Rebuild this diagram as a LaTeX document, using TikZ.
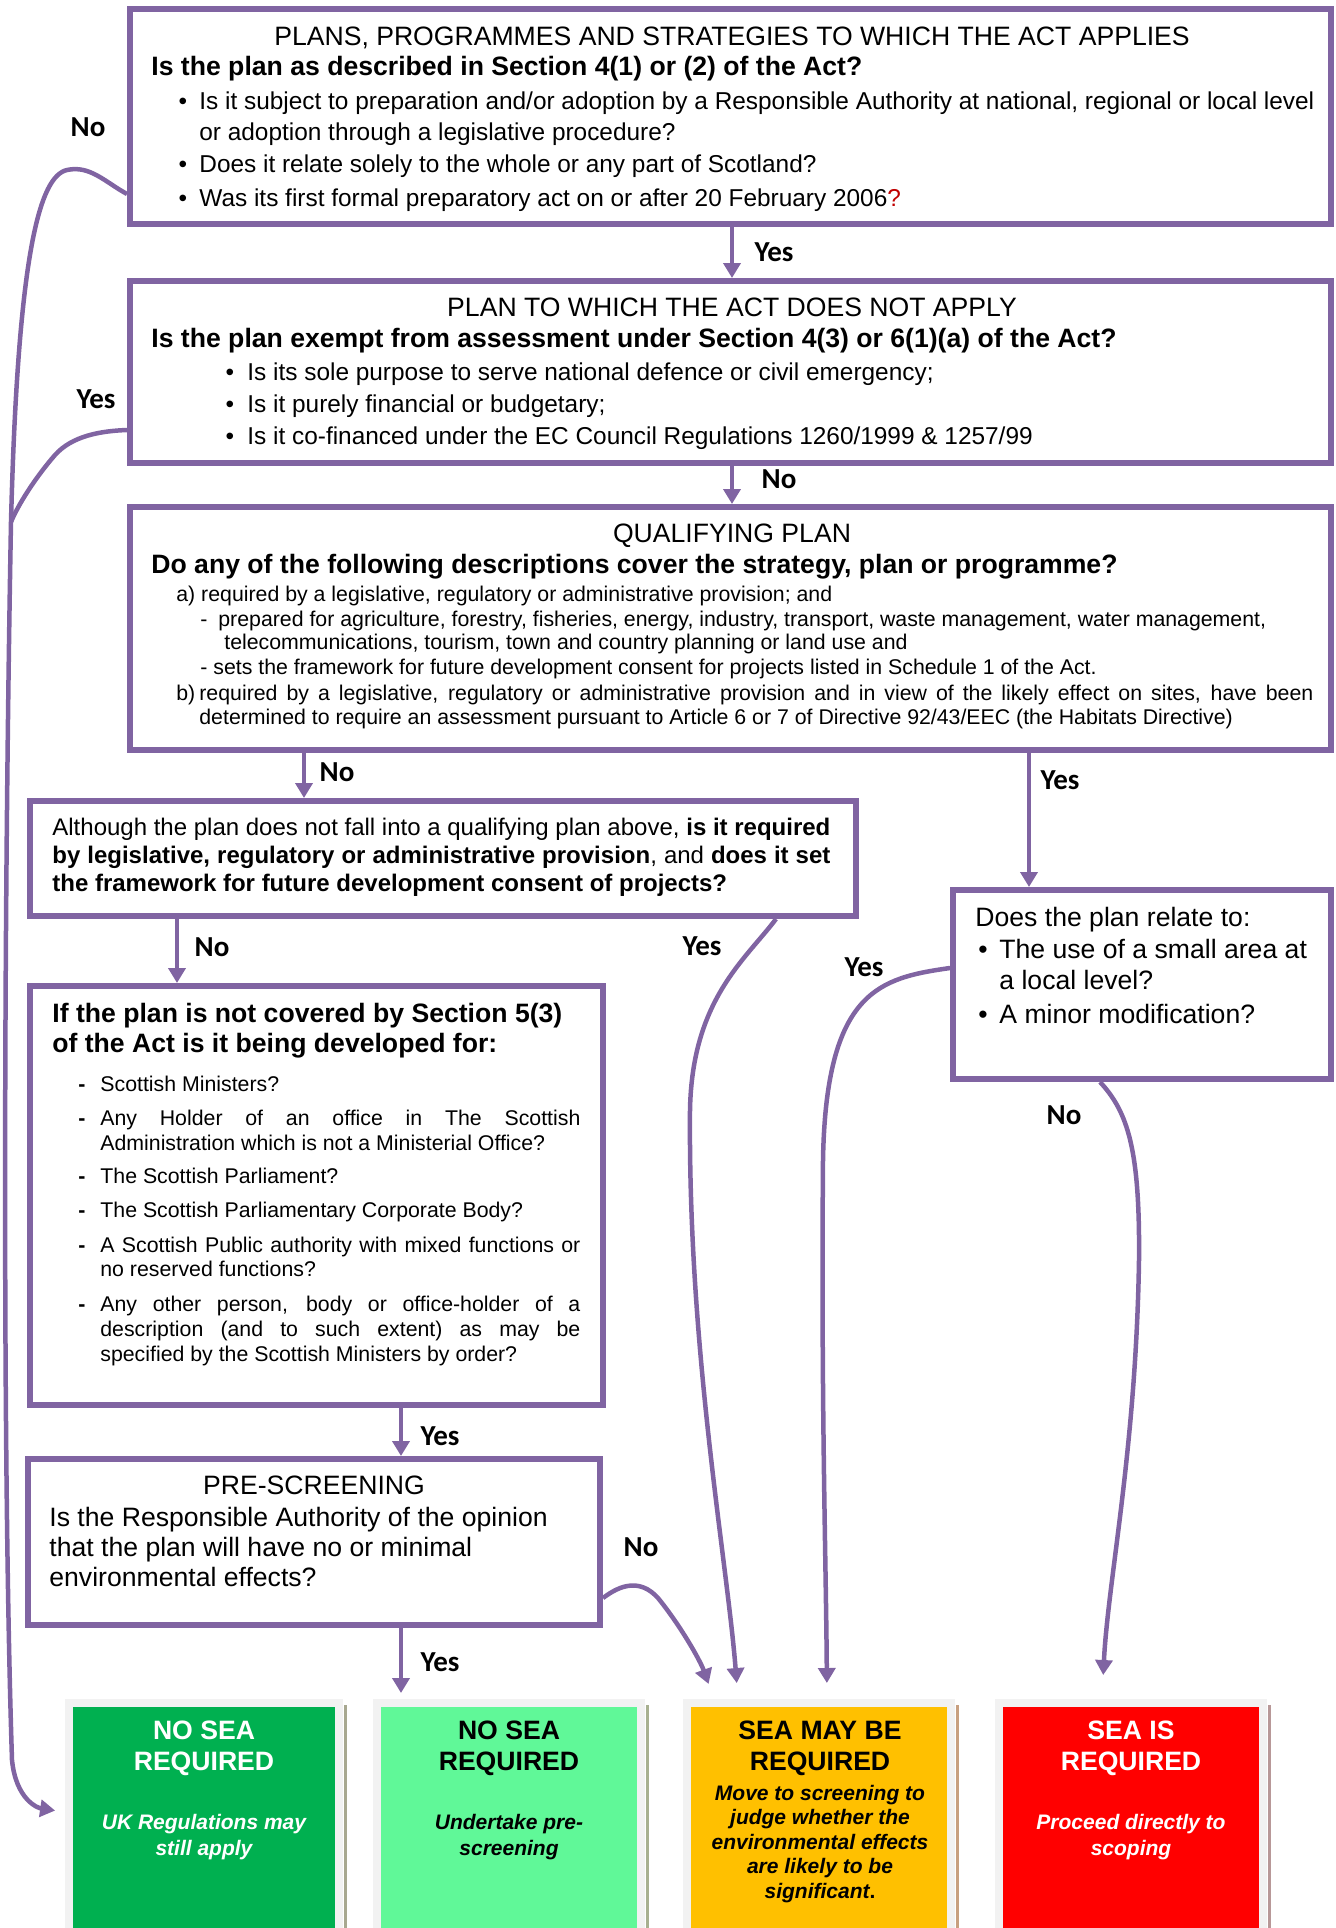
\documentclass[tikz,border=0pt]{standalone}
\usepackage{fontspec}
\setmainfont{Liberation Sans}
\newfontfamily\calib{Carlito}
\usetikzlibrary{arrows.meta}
\definecolor{pur}{HTML}{8064A2}
\definecolor{gfr}{HTML}{F2F2F2}
\definecolor{gA}{HTML}{00B050}
\definecolor{gB}{HTML}{60F898}
\definecolor{amb}{HTML}{FFC000}
\definecolor{rd}{HTML}{FF0000}
\definecolor{drd}{HTML}{C00000}
\newcommand\fA{\fontsize{13.3}{16}\selectfont}
\newcommand\fB{\fontsize{12.2}{14}\selectfont}
\newcommand\fBB{\fontsize{12}{14}\selectfont}
\newcommand\fD{\fontsize{10.65}{12.5}\selectfont}
\newcommand\fE{\fontsize{10.5}{12.5}\selectfont}
\begin{document}
\begin{tikzpicture}[x=0.5pt,y=-0.5pt,
  pbox/.style={draw=pur, line width=3pt, fill=white, inner sep=0pt},
  obox/.style={draw=gfr, line width=4pt, inner sep=0pt, minimum height=121pt},
  conn/.style={draw=pur, line width=2.25pt, -{Triangle[length=7.5pt,width=8.5pt]}},
  lbl/.style={font=\calib\bfseries\fontsize{14.5}{16}\selectfont, inner sep=0pt, anchor=center},
  tl/.style={anchor=mid west, inner sep=0pt, yshift=-2pt},
  tc/.style={anchor=mid, inner sep=0pt, yshift=-2pt},
  bul/.style={anchor=mid, inner sep=0pt, yshift=-2pt},
  otitle/.style={anchor=mid, inner sep=0pt, yshift=-2.2pt, font=\fA\bfseries},
  osub/.style={anchor=mid, inner sep=0pt, yshift=-2.2pt, font=\fE\bfseries\itshape}
]
\useasboundingbox (0,0) rectangle (1336,1928);

% ---------------- boxes ----------------
\node[pbox, minimum width=600.5pt, minimum height=107.5pt] (b1) at (730.5,116.5) {};
\node[pbox, minimum width=600.5pt, minimum height=91pt] (b2) at (730.5,372) {};
\node[pbox, minimum width=600.5pt, minimum height=121.5pt] (b3) at (730.5,628.5) {};
\node[pbox, minimum width=413pt, minimum height=57.5pt] (b4) at (443,858.5) {};
\node[pbox, minimum width=189pt, minimum height=94.5pt] (b5) at (1142,984.5) {};
\node[pbox, minimum width=286.5pt, minimum height=209.5pt] (b6) at (316.5,1195.5) {};
\node[pbox, minimum width=286pt, minimum height=83pt] (b7) at (314,1542) {};

% ---------------- outcome boxes ----------------
\node[obox, fill=gA, minimum width=135pt] (o1) at (204,1824) {};
\node[obox, fill=gB, minimum width=132pt] (o2) at (509,1824) {};
\node[obox, fill=amb, minimum width=132pt] (o3) at (819,1824) {};
\node[obox, fill=rd, minimum width=132pt] (o4) at (1131,1824) {};
\draw[line width=1.5pt, color={rgb,255:red,168;green,168;blue,144}] (345,1705) -- (345,1940);
\draw[line width=1.5pt, color={rgb,255:red,168;green,176;blue,144}] (647,1705) -- (647,1940);
\draw[line width=1.5pt, color={rgb,255:red,200;green,160;blue,128}] (957,1705) -- (957,1940);
\draw[line width=1.5pt, color={rgb,255:red,184;green,152;blue,152}] (1269,1705) -- (1269,1940);

% ---------------- box 1 text ----------------
\node[tc, font=\fA] (t1a) at (732,36) {PLANS, PROGRAMMES AND STRATEGIES TO WHICH THE ACT APPLIES};
\node[tl, font=\fA\bfseries] (t1b) at (151,66) {Is the plan as described in Section 4(1) or (2) of the Act?};
\node[bul, font=\fB] (u1a) at (183,100) {\textbullet};
\node[tl, font=\fB] (t1c) at (199,100) {Is it subject to preparation and/or adoption by a Responsible Authority at national, regional or local level};
\node[tl, font=\fB] (t1d) at (199,131) {or adoption through a legislative procedure?};
\node[bul, font=\fB] (u1b) at (183,163) {\textbullet};
\node[tl, font=\fB] (t1e) at (199,163) {Does it relate solely to the whole or any part of Scotland?};
\node[bul, font=\fB] (u1c) at (183,197) {\textbullet};
\node[tl, font=\fB] (t1f) at (199,197) {Was its first formal preparatory act on or after 20 February 2006{\color{drd}?}};

% ---------------- box 2 text ----------------
\node[tc, font=\fA] (t2a) at (732,307) {PLAN TO WHICH THE ACT DOES NOT APPLY};
\node[tl, font=\fA\bfseries] (t2b) at (151,338) {Is the plan exempt from assessment under Section 4(3) or 6(1)(a) of the Act?};
\node[bul, font=\fB] (u2a) at (230,371) {\textbullet};
\node[tl, font=\fB] (t2c) at (247,371) {Is its sole purpose to serve national defence or civil emergency;};
\node[bul, font=\fB] (u2b) at (230,403) {\textbullet};
\node[tl, font=\fB] (t2d) at (247,403) {Is it purely financial or budgetary;};
\node[bul, font=\fB] (u2c) at (230,435) {\textbullet};
\node[tl, font=\fB] (t2e) at (247,435) {Is it co-financed under the EC Council Regulations 1260/1999 \& 1257/99};

% ---------------- box 3 text ----------------
\node[tc, font=\fA] (t3a) at (732,533) {QUALIFYING PLAN};
\node[tl, font=\fA\bfseries] (t3b) at (151,564) {Do any of the following descriptions cover the strategy, plan or programme?};
\node[tl, font=\fD] (t3c) at (176,592) {a) required by a legislative, regulatory or administrative provision; and};
\node[tl, font=\fD] (t3d) at (200,617) {-};
\node[tl, font=\fD] (t3e) at (218,617) {prepared for agriculture, forestry, fisheries, energy, industry, transport, waste management, water management,};
\node[tl, font=\fD] (t3f) at (224,640) {telecommunications, tourism, town and country planning or land use and};
\node[tl, font=\fD] (t3g) at (200,665) {- sets the framework for future development consent for projects listed in Schedule 1 of the Act.};
\node[tl, font=\fD] (t3h) at (176,691) {b)};
\node[tl, font=\fD] (t3i) at (199,691) {\makebox[557pt][s]{required by a legislative, regulatory or administrative provision and in view of the likely effect on sites, have been}};
\node[tl, font=\fD] (t3j) at (199,715) {determined to require an assessment pursuant to Article 6 or 7 of Directive 92/43/EEC (the Habitats Directive)};

% ---------------- box 4 text ----------------
\node[tl, font=\fBB] (t4a) at (52,826) {\makebox[389pt][s]{Although the plan does not fall into a qualifying plan above, \textbf{is it required}}};
\node[tl, font=\fBB] (t4b) at (52,854) {\makebox[389pt][s]{\textbf{by legislative, regulatory or administrative provision}, and \textbf{does it set}}};
\node[tl, font=\fBB] (t4c) at (52,882) {\textbf{the framework for future development consent of projects?}};

% ---------------- box 5 text ----------------
\node[tl, font=\fA] (t5a) at (975,917) {Does the plan relate to:};
\node[bul, font=\fA] (u5a) at (983,949) {\textbullet};
\node[tl, font=\fA] (t5b) at (999,949) {The use of a small area at};
\node[tl, font=\fA] (t5c) at (999,980) {a local level?};
\node[bul, font=\fA] (u5b) at (983,1014) {\textbullet};
\node[tl, font=\fA] (t5d) at (999,1014) {A minor modification?};

% ---------------- box 6 text ----------------
\node[tl, font=\fA\bfseries] (t6a) at (52,1013) {If the plan is not covered by Section 5(3)};
\node[tl, font=\fA\bfseries] (t6b) at (52,1043) {of the Act is it being developed for:};
\node[bul, font=\fD\bfseries] (d6a) at (82,1082) {-};
\node[tl, font=\fD] (t6c) at (100,1082) {Scottish Ministers?};
\node[bul, font=\fD\bfseries] (d6b) at (82,1116) {-};
\node[tl, font=\fD] (t6d) at (100,1116) {\makebox[240pt][s]{Any Holder of an office in The Scottish}};
\node[tl, font=\fD] (t6e) at (100,1141) {Administration which is not a Ministerial Office?};
\node[bul, font=\fD\bfseries] (d6c) at (82,1174) {-};
\node[tl, font=\fD] (t6f) at (100,1174) {The Scottish Parliament?};
\node[bul, font=\fD\bfseries] (d6d) at (82,1208) {-};
\node[tl, font=\fD] (t6g) at (100,1208) {The Scottish Parliamentary Corporate Body?};
\node[bul, font=\fD\bfseries] (d6e) at (82,1243) {-};
\node[tl, font=\fD] (t6h) at (100,1243) {\makebox[240pt][s]{A Scottish Public authority with mixed functions or}};
\node[tl, font=\fD] (t6i) at (100,1267) {no reserved functions?};
\node[bul, font=\fD\bfseries] (d6f) at (82,1302) {-};
\node[tl, font=\fD] (t6j) at (100,1302) {\makebox[240pt][s]{Any other person, body or office-holder of a}};
\node[tl, font=\fD] (t6k) at (100,1327) {\makebox[240pt][s]{description (and to such extent) as may be}};
\node[tl, font=\fD] (t6l) at (100,1352) {specified by the Scottish Ministers by order?};

% ---------------- box 7 text ----------------
\node[tc, font=\fA] (t7a) at (314,1485) {PRE-SCREENING};
\node[tl, font=\fA] (t7b) at (49,1517) {Is the Responsible Authority of the opinion};
\node[tl, font=\fA] (t7c) at (49,1547) {that the plan will have no or minimal};
\node[tl, font=\fA] (t7d) at (49,1577) {environmental effects?};

% ---------------- outcome texts ----------------
\node[otitle, text=white] (p1a) at (204,1730) {NO SEA};
\node[otitle, text=white] (p1b) at (204,1761) {REQUIRED};
\node[osub, text=white] (p1c) at (204,1820) {UK Regulations may};
\node[osub, text=white] (p1d) at (204,1846) {still apply};
\node[otitle] (p2a) at (509,1730) {NO SEA};
\node[otitle] (p2b) at (509,1761) {REQUIRED};
\node[osub] (p2c) at (509,1820) {Undertake pre-};
\node[osub] (p2d) at (509,1846) {screening};
\node[otitle] (p3a) at (820,1730) {SEA MAY BE};
\node[otitle] (p3b) at (820,1761) {REQUIRED};
\node[osub] (p3c) at (820,1791) {Move to screening to};
\node[osub] (p3d) at (820,1815) {judge whether the};
\node[osub] (p3e) at (820,1840) {environmental effects};
\node[osub] (p3f) at (820,1864) {are likely to be};
\node[osub] (p3g) at (820,1889) {significant{\upshape.}};
\node[otitle, text=white] (p4a) at (1131,1730) {SEA IS};
\node[otitle, text=white] (p4b) at (1131,1761) {REQUIRED};
\node[osub, text=white] (p4c) at (1131,1820) {Proceed directly to};
\node[osub, text=white] (p4d) at (1131,1846) {scoping};

% ---------------- connectors ----------------
\draw[conn] (b1.south -| 732,0) -- (b2.north -| 732,0);
\draw[conn] (b2.south -| 732,0) -- (b3.north -| 732,0);
\draw[conn] (b3.south -| 304,0) -- (b4.north -| 304,0);
\draw[conn] (b3.south -| 1029,0) -- (b5.north -| 1029,0);
\draw[conn] (b4.south -| 177,0) -- (b6.north -| 177,0);
\draw[conn] (b6.south -| 401,0) -- (b7.north -| 401,0);
\draw[conn, shorten >=3pt] (b7.south -| 401,0) -- (o2.north -| 401,0);

\coordinate (mrg) at (11,522);
\draw[conn, shorten >=5pt] (b1.west |- 0,194) .. controls (105,182) and (90,165) .. (67,170)
   .. controls (40,176) and (18,250) .. (mrg)
   .. controls (4,900) and (2,1450) .. (12,1760)
   .. controls (16,1800) and (38,1808) .. (o1.west |- 0,1812);
\draw[draw=pur, line width=2.25pt] (b2.west |- 0,430) .. controls (100,431) and (72,436) .. (55,455)
   .. controls (35,478) and (18,505) .. (mrg);

\draw[conn, shorten >=8pt] (b4.south -| 776,0) .. controls (745,960) and (692,1000) .. (690,1110)
   .. controls (688,1350) and (727,1560) .. (o3.north -| 738,0);
\draw[conn, shorten >=8pt] (b5.west |- 0,968) .. controls (880,978) and (826,990) .. (823,1160)
   .. controls (821,1400) and (826,1560) .. (o3.north -| 827,0);
\draw[conn, shorten >=12pt] (b5.south -| 1100,0) .. controls (1128,1112) and (1140,1150) .. (1139,1260)
   .. controls (1136,1450) and (1108,1580) .. (o4.north -| 1102,0);
\draw[conn, shorten >=8pt] (b7.east |- 0,1598) .. controls (620,1585) and (640,1578) .. (658,1598)
   .. controls (680,1625) and (700,1660) .. (o3.north -| 714,0);

% ---------------- labels ----------------
\node[lbl] (l1) at (88,127) {No};
\node[lbl] (l2) at (774,252) {Yes};
\node[lbl] (l3) at (96,399) {Yes};
\node[lbl] (l4) at (779,479) {No};
\node[lbl] (l5) at (337,772) {No};
\node[lbl] (l6) at (1060,780) {Yes};
\node[lbl] (l7) at (212,947) {No};
\node[lbl] (l8) at (702,946) {Yes};
\node[lbl] (l9) at (864,967) {Yes};
\node[lbl] (l10) at (1064,1115) {No};
\node[lbl] (l11) at (440,1436) {Yes};
\node[lbl] (l12) at (641,1547) {No};
\node[lbl] (l13) at (440,1662) {Yes};
\end{tikzpicture}
\end{document}
